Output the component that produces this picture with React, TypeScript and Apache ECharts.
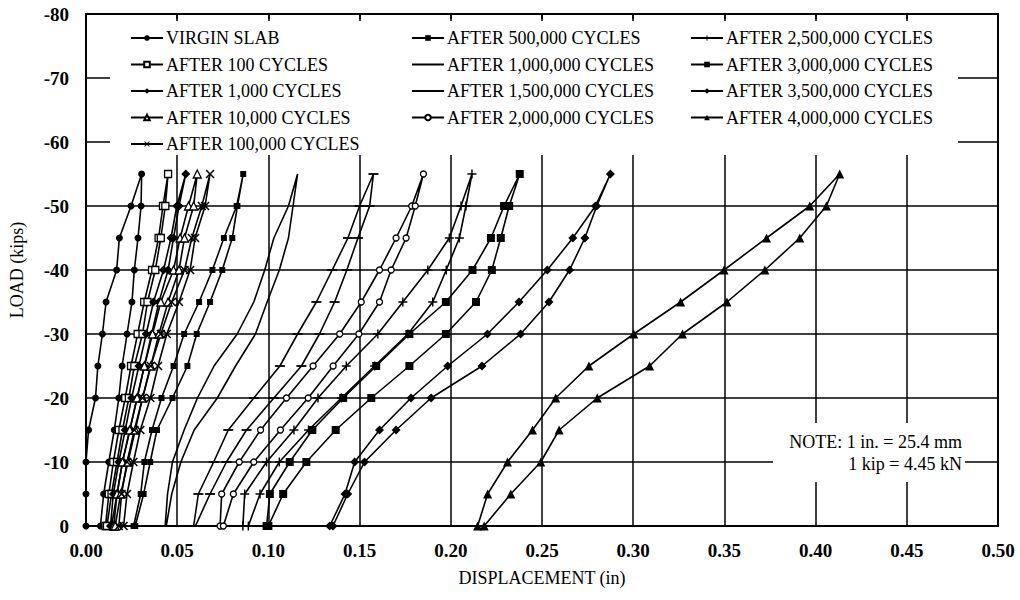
import React, { useEffect, useRef } from "react";
import * as echarts from "echarts";

// Load levels (kips): loading branch 0 -> -55, unloading branch -50 -> 0
const loadUp = [0, -5, -10, -15, -20, -25, -30, -35, -40, -45, -50, -55];
const loadDown = [-50, -45, -40, -35, -30, -25, -20, -15, -10, -5, 0];

const xTicks = [0, 0.05, 0.1, 0.15, 0.2, 0.25, 0.3, 0.35, 0.4, 0.45, 0.5];

// Displacements (in)
const virginUp = [0.0, 0.0, 0.0, 0.0014, 0.0052, 0.0065, 0.009, 0.011, 0.0168, 0.0183, 0.0247, 0.0305];
const virginDown = [0.0302, 0.0285, 0.0265, 0.0252, 0.0225, 0.0198, 0.018, 0.0155, 0.0125, 0.0097, 0.0079];

const c100Up = [0.0107, 0.0125, 0.015, 0.018, 0.0215, 0.0247, 0.0283, 0.0319, 0.0362, 0.0398, 0.0422, 0.045];
const c100Down = [0.0435, 0.041, 0.038, 0.0337, 0.031, 0.0265, 0.0235, 0.02, 0.017, 0.014, 0.0115];

const c1kUp = [0.0134, 0.015, 0.018, 0.0215, 0.025, 0.029, 0.033, 0.037, 0.0425, 0.0466, 0.0498, 0.0547];
const c1kDown = [0.051, 0.048, 0.045, 0.04, 0.036, 0.032, 0.028, 0.024, 0.02, 0.017, 0.014];

const c10kUp = [0.0152, 0.017, 0.02, 0.024, 0.028, 0.032, 0.0365, 0.041, 0.048, 0.0516, 0.0562, 0.061];
const c10kDown = [0.059, 0.054, 0.051, 0.045, 0.04, 0.0355, 0.031, 0.027, 0.023, 0.019, 0.016];

const c100kUp = [0.018, 0.0195, 0.0225, 0.0265, 0.031, 0.0355, 0.041, 0.047, 0.054, 0.058, 0.0635, 0.068];
const c100kDown = [0.0653, 0.0598, 0.0571, 0.051, 0.0443, 0.0395, 0.0353, 0.0298, 0.026, 0.0225, 0.0206];

const c500kUp = [0.0261, 0.03, 0.032, 0.0362, 0.0414, 0.048, 0.0538, 0.062, 0.0693, 0.0756, 0.0826, 0.0862];
const c500kDown = [0.083, 0.0802, 0.0747, 0.068, 0.0607, 0.0556, 0.0474, 0.0389, 0.0352, 0.0316, 0.027];

const c1mUp = [0.0434, 0.0447, 0.0474, 0.0538, 0.0611, 0.0702, 0.0829, 0.092, 0.098, 0.103, 0.111, 0.116];
const c1mDown = [0.1135, 0.111, 0.106, 0.0993, 0.0929, 0.082, 0.072, 0.0593, 0.052, 0.047, 0.044];

const c15mUp = [0.059, 0.0616, 0.07, 0.078, 0.092, 0.1063, 0.116, 0.1263, 0.135, 0.1436, 0.15, 0.1576];
const c15mDown = [0.1555, 0.1491, 0.143, 0.1363, 0.128, 0.1181, 0.103, 0.088, 0.077, 0.068, 0.06];

const c2mUp = [0.0735, 0.0744, 0.084, 0.0957, 0.1099, 0.1245, 0.1391, 0.1509, 0.1609, 0.17, 0.1786, 0.185];
const c2mDown = [0.1805, 0.1755, 0.1673, 0.1609, 0.1496, 0.1355, 0.1218, 0.1066, 0.092, 0.0808, 0.0753];

const c25mUp = [0.086, 0.087, 0.099, 0.114, 0.1272, 0.1427, 0.16, 0.1737, 0.1874, 0.1992, 0.2056, 0.2116];
const c25mDown = [0.2083, 0.2047, 0.1975, 0.1901, 0.1765, 0.1582, 0.14, 0.122, 0.106, 0.0954, 0.089];

const c3mUp = [0.099, 0.1008, 0.1117, 0.1241, 0.141, 0.1591, 0.1773, 0.1973, 0.2119, 0.222, 0.2292, 0.2378];
const c3mDown = [0.232, 0.2274, 0.2225, 0.2138, 0.1973, 0.1773, 0.1564, 0.1369, 0.1208, 0.1081, 0.1];

const c35mUp = [0.1336, 0.142, 0.1473, 0.1609, 0.1782, 0.1983, 0.2201, 0.2374, 0.2529, 0.2669, 0.2793, 0.2875];
const c35mDown = [0.28, 0.2735, 0.2651, 0.2538, 0.2383, 0.2171, 0.1892, 0.17, 0.1527, 0.1435, 0.1354];

const c4mUp = [0.2147, 0.2202, 0.2311, 0.2448, 0.2575, 0.2757, 0.3003, 0.326, 0.3498, 0.3731, 0.3968, 0.4132];
const c4mDown = [0.4059, 0.3913, 0.3722, 0.3514, 0.327, 0.309, 0.2803, 0.2594, 0.2493, 0.2329, 0.2183];

const names = [
  "VIRGIN SLAB",
  "AFTER 100 CYCLES",
  "AFTER 1,000 CYCLES",
  "AFTER 10,000 CYCLES",
  "AFTER 100,000 CYCLES",
  "AFTER 500,000 CYCLES",
  "AFTER 1,000,000 CYCLES",
  "AFTER 1,500,000 CYCLES",
  "AFTER 2,000,000 CYCLES",
  "AFTER 2,500,000 CYCLES",
  "AFTER 3,000,000 CYCLES",
  "AFTER 3,500,000 CYCLES",
  "AFTER 4,000,000 CYCLES",
];

const ups = [virginUp, c100Up, c1kUp, c10kUp, c100kUp, c500kUp, c1mUp, c15mUp, c2mUp, c25mUp, c3mUp, c35mUp, c4mUp];
const downs = [virginDown, c100Down, c1kDown, c10kDown, c100kDown, c500kDown, c1mDown, c15mDown, c2mDown, c25mDown, c3mDown, c35mDown, c4mDown];

const X_PATH = "path://M0,1.2L1.2,0L5,3.8L8.8,0L10,1.2L6.2,5L10,8.8L8.8,10L5,6.2L1.2,10L0,8.8L3.8,5Z";
const PLUS_PATH = "path://M4.2,0H5.8V4.2H10V5.8H5.8V10H4.2V5.8H0V4.2H4.2Z";
// square bounding box (via move-to points) with a thin horizontal bar in the middle
const DASH_PATH = "path://M0,0M10,10M0,4.1H10V5.9H0Z";

const markers: any[] = [
  { symbol: "circle", size: 7, fill: "#000" },
  { symbol: "rect", size: 7, fill: "#fff" },
  { symbol: "diamond", size: 9, fill: "#000" },
  { symbol: "triangle", size: 8, fill: "#fff" },
  { symbol: X_PATH, size: 9, fill: "#000" },
  { symbol: "rect", size: 6, fill: "#000" },
  { symbol: "none", size: 0, fill: "rgba(0,0,0,0)" },
  { symbol: DASH_PATH, size: 10, fill: "#000" },
  { symbol: "circle", size: 6, fill: "#fff" },
  { symbol: PLUS_PATH, size: 9, fill: "#000" },
  { symbol: "rect", size: 8, fill: "#000" },
  { symbol: "diamond", size: 9, fill: "#000" },
  { symbol: "triangle", size: 9, fill: "#000" },
];

const FONT = "'Liberation Serif', 'Times New Roman', serif";

export default function App() {
  const ref = useRef<HTMLDivElement>(null);
  useEffect(() => {
    if (!ref.current) return;
    const chart = echarts.init(ref.current, null, { renderer: "svg" });

    const series = names.map((name, i) => {
      const data: number[][] = [];
      ups[i].forEach((x, k) => data.push([x, loadUp[k]]));
      downs[i].forEach((x, k) => data.push([x, loadDown[k]]));
      const m = markers[i];
      return {
        name,
        type: "line",
        data,
        symbol: m.symbol,
        symbolSize: m.size,
        showSymbol: m.symbol !== "none",
        silent: true,
        z: 2,
        lineStyle: { color: "#000", width: 1.6 },
        itemStyle: { color: m.fill, borderColor: "#000", borderWidth: m.fill === "#fff" ? 1.3 : 0 },
        emphasis: { disabled: true },
      };
    });

    const legendBase = {
      orient: "vertical",
      top: 28,
      itemWidth: 32,
      itemHeight: 7,
      itemGap: 6.5,
      selectedMode: false,
      padding: 0,
      textStyle: { fontFamily: FONT, fontSize: 18, color: "#000", lineHeight: 20, padding: [0, 0, 0, -2] },
      z: 5,
    };

    const option: any = {
      animation: false,
      backgroundColor: "#fff",
      grid: { left: 86, right: 22, top: 14, bottom: 74, show: true, borderColor: "#000", borderWidth: 2, backgroundColor: "transparent" },
      legend: [
        { ...legendBase, left: 130, data: names.slice(0, 5) },
        { ...legendBase, left: 411, data: names.slice(5, 9) },
        { ...legendBase, left: 690, data: names.slice(9, 13) },
      ],
      xAxis: [
        {
          type: "value",
          min: xTicks[0],
          max: xTicks[xTicks.length - 1],
          interval: 0.05,
          name: "DISPLACEMENT (in)",
          nameLocation: "middle",
          nameGap: 43,
          nameTextStyle: { fontFamily: FONT, fontSize: 18, color: "#000" },
          axisLine: { lineStyle: { color: "#000", width: 2 } },
          axisTick: { show: false },
          axisLabel: { formatter: (v: number) => v.toFixed(2), fontFamily: FONT, fontSize: 19, fontWeight: "bold", color: "#000", margin: 15 },
          splitLine: { show: true, lineStyle: { color: "#000", width: 1.5 } },
        },
        {
          type: "value",
          position: "top",
          min: xTicks[0],
          max: xTicks[xTicks.length - 1],
          interval: 0.05,
          axisLine: { show: true, lineStyle: { color: "#000", width: 2 } },
          axisTick: { show: true, inside: true, length: 5, lineStyle: { color: "#000", width: 1.5 } },
          axisLabel: { show: false },
          splitLine: { show: false },
        },
      ],
      yAxis: {
        type: "value",
        min: -80,
        max: 0,
        interval: 10,
        inverse: true,
        name: "LOAD (kips)",
        nameLocation: "middle",
        nameGap: 60,
        nameTextStyle: { fontFamily: FONT, fontSize: 18, color: "#000" },
        axisLine: { show: true, lineStyle: { color: "#000", width: 2 } },
        axisTick: { show: false },
        axisLabel: { fontFamily: FONT, fontSize: 19, fontWeight: "bold", color: "#000", margin: 17 },
        splitLine: { show: true, lineStyle: { color: "#000", width: 1.5 } },
      },
      graphic: [
        { type: "rect", z: 3, silent: true, shape: { x: 110, y: 21, width: 848, height: 134 }, style: { fill: "#fff" } },
        { type: "rect", z: 3, silent: true, shape: { x: 773, y: 423, width: 192, height: 59 }, style: { fill: "#fff" } },
        {
          type: "text", z: 4, silent: true, x: 962, y: 442,
          style: { text: "NOTE: 1 in. = 25.4 mm", align: "right", verticalAlign: "middle", fontFamily: FONT, fontSize: 18, fill: "#000" },
        },
        {
          type: "text", z: 4, silent: true, x: 962, y: 464,
          style: { text: "1 kip = 4.45 kN", align: "right", verticalAlign: "middle", fontFamily: FONT, fontSize: 18, fill: "#000" },
        },
      ],
      series,
    };

    chart.setOption(option);
    return () => chart.dispose();
  }, []);

  return (
    <div
      ref={ref}
      style={{ position: "absolute", left: 0, top: 0, width: 1020, height: 600, background: "#fff" }}
    />
  );
}
